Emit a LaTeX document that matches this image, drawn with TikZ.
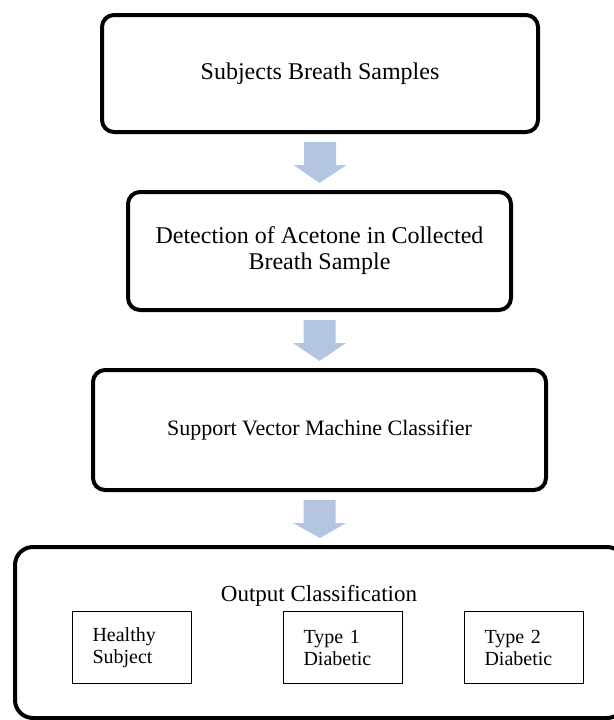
\documentclass[tikz,border=0pt]{standalone}
\usepackage{fontspec}
\setmainfont{Liberation Serif}
\usetikzlibrary{calc}
\definecolor{flowblue}{RGB}{180,197,225}
\tikzset{
  stagebox/.style={draw, line width=4pt, rounded corners=12pt, align=center, inner sep=0pt, font=\fontsize{24}{26}\selectfont},
  classbox/.style={draw, line width=1pt, align=left, inner xsep=20.5pt, inner ysep=0pt, text width=78pt, minimum height=72pt, font=\fontsize{20}{22}\selectfont},
}
\begin{document}
\begin{tikzpicture}[x=1pt,y=-1pt]
    \useasboundingbox (0,0) rectangle (613,720);
    \node[stagebox, minimum width=436pt, minimum height=117pt] (breath) at (320,73.5) {Subjects Breath Samples};
    \node[stagebox, minimum width=383pt, minimum height=118pt] (acetone) at (319.5,251) {Detection of Acetone in Collected\\Breath Sample};
    \node[stagebox, minimum width=453pt, minimum height=120pt, font=\fontsize{22}{24}\selectfont] (svm) at (319.5,430) {Support Vector Machine Classifier};
    \node[stagebox, rounded corners=18pt, minimum width=610pt, minimum height=171pt] (output) at (320,632.5) {};
    \node[font=\fontsize{23}{25}\selectfont] (outlabel) at (319,596) {Output Classification};
    \node[classbox] (healthy) at (131.5,647.5) {Healthy\\Subject};
    \node[classbox] (type1) at (342.5,647.5) {Type 1\\Diabetic};
    \node[classbox] (type2) at (523.5,647.5) {Type 2\\Diabetic};
    \foreach \a/\b in {breath/acetone, acetone/svm, svm/output}
        \fill[flowblue] ($(\a.south)+(-16,8)$) -- ($(\a.south)+(16,8)$) -- ($(\a.south)+(16,31)$) -- ($(\a.south)+(26.5,31)$) -- ($(\b.north)+(0,-7)$) -- ($(\a.south)+(-26.5,31)$) -- ($(\a.south)+(-16,31)$) -- cycle;
\end{tikzpicture}
\end{document}
